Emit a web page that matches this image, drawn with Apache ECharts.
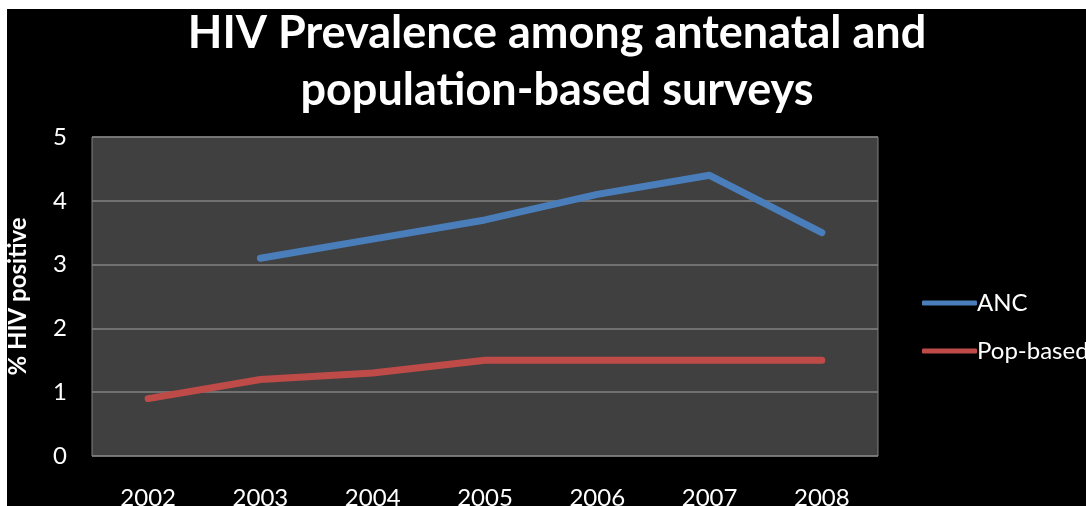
<!DOCTYPE html>
<html>
<head>
<meta charset="utf-8">
<script src="https://cdn.jsdelivr.net/npm/echarts@6/dist/echarts.min.js"></script>
<style>
  html, body { margin: 0; padding: 0; background: #000; }
  #chart { width: 1086px; height: 506px; }
</style>
</head>
<body>
<div id="chart"></div>
<script>
// Survey years on the x axis
const years = ['2002', '2003', '2004', '2005', '2006', '2007', '2008'];
// % HIV positive, antenatal clinic surveillance (no 2002 round)
const ancValues = [null, 3.1, 3.4, 3.7, 4.1, 4.4, 3.5];
// % HIV positive, population-based surveys
const popValues = [0.9, 1.2, 1.3, 1.5, 1.5, 1.5, 1.5];
const seriesNames = ['ANC', 'Pop-based'];
const titleText = 'HIV Prevalence among antenatal and\npopulation-based surveys';
const yAxisTitle = '% HIV positive';

const FONT = 'Lato, "Open Sans", sans-serif';

const chart = echarts.init(document.getElementById('chart'), null, { renderer: 'canvas' });

chart.setOption({
  backgroundColor: '#000000',
  animation: false,
  title: {
    text: titleText,
    left: 552,
    textAlign: 'center',
    top: 0,
    textStyle: {
      color: '#ffffff',
      fontFamily: FONT,
      fontWeight: 'bold',
      fontSize: 45,
      lineHeight: 57
    }
  },
  legend: {
    orient: 'vertical',
    left: 917,
    top: 286,
    itemGap: 24,
    itemWidth: 55,
    itemHeight: 5,
    icon: 'roundRect',
    textStyle: { color: '#ffffff', fontFamily: FONT, fontSize: 24, padding: [0, 0, 0, -5] },
    data: seriesNames
  },
  grid: {
    left: 92,
    right: 208,
    top: 137,
    bottom: 50,
    outerBoundsMode: 'none',
    containLabel: false,
    show: true,
    backgroundColor: '#404040',
    borderColor: '#828282',
    borderWidth: 1
  },
  xAxis: {
    type: 'category',
    data: years,
    boundaryGap: true,
    axisLine: { show: false },
    axisTick: { show: false },
    axisLabel: { color: '#ffffff', fontFamily: FONT, fontSize: 24, margin: 30 }
  },
  yAxis: {
    type: 'value',
    min: 0,
    max: 5,
    interval: 1,
    name: yAxisTitle,
    nameLocation: 'middle',
    nameGap: 62,
    nameTextStyle: { color: '#ffffff', fontFamily: FONT, fontWeight: 'bold', fontSize: 24 },
    axisLine: { show: false },
    axisTick: { show: false },
    axisLabel: { color: '#ffffff', fontFamily: FONT, fontSize: 24, margin: 25 },
    splitLine: { lineStyle: { color: '#828282', width: 1.5 } }
  },
  series: [
    {
      name: seriesNames[0],
      type: 'line',
      data: ancValues,
      showSymbol: false,
      symbol: 'none',
      color: '#4a7ebb',
      lineStyle: { width: 7, cap: 'round', join: 'round', color: '#4a7ebb' }
    },
    {
      name: seriesNames[1],
      type: 'line',
      data: popValues,
      showSymbol: false,
      symbol: 'none',
      color: '#be4b48',
      lineStyle: { width: 7, cap: 'round', join: 'round', color: '#be4b48' }
    }
  ],
  graphic: [
    { type: 'rect', left: 0, top: 0, shape: { width: 1086, height: 9 }, style: { fill: '#ffffff' }, z: 100 },
    { type: 'rect', left: 0, top: 0, shape: { width: 7, height: 506 }, style: { fill: '#ffffff' }, z: 100 }
  ]
});
</script>
</body>
</html>
